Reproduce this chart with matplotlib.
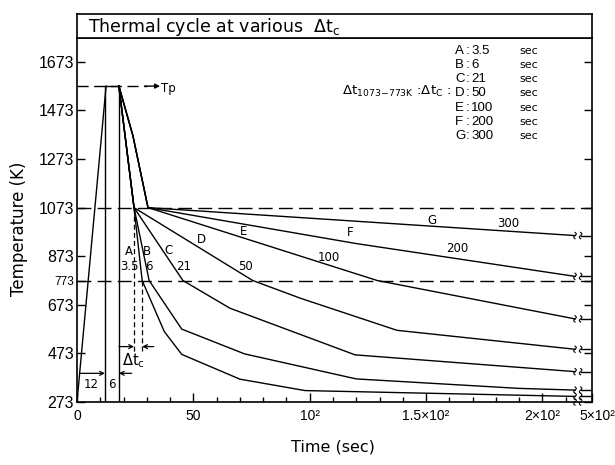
import numpy as np
import matplotlib
matplotlib.use("Agg")
import matplotlib.pyplot as plt
from matplotlib.ticker import FixedLocator
from matplotlib.transforms import ScaledTranslation

# ---------------- data ----------------
curve_names = ["A", "B", "C", "D", "E", "F", "G"]
dtc_values = ["3.5", "6", "21", "50", "100", "200", "300"]

peak_T = 1573
upper_ref_T = 1073
lower_ref_T = 773
heat_t = [0, 12.5]
heat_T = [273, 1573]
hold_t = [12.5, 18]
hold_marks_t = [12, 18]

A_t = [18, 24.5, 28, 37.5, 45, 70, 98, 214]
A_T = [1573, 1073, 773, 563, 469, 367, 320, 296]
B_t = [18, 24.5, 31, 45, 72, 120, 190, 214]
B_T = [1573, 1073, 773, 573, 471, 368, 329, 322]
C_t = [18, 24.5, 45.5, 65.7, 119.5, 214]
C_T = [1573, 1073, 773, 659, 467, 398]
D_t = [18, 24.5, 75.5, 96, 137.5, 214]
D_T = [1573, 1073, 773, 700, 568, 490]
E_t = [18, 24, 30.5, 129, 214]
E_T = [1573, 1370, 1073, 773, 615]
F_t = [18, 24, 30.5, 120, 214]
F_T = [1573, 1370, 1073, 925, 790]
G_t = [18, 24, 30.5, 214]
G_T = [1573, 1370, 1073, 958]

curves_t = [A_t, B_t, C_t, D_t, E_t, F_t, G_t]
curves_T = [A_T, B_T, C_T, D_T, E_T, F_T, G_T]

t_axis_end = 221.3
t_resume = 216.4

ytick_vals = [273, 473, 673, 773, 873, 1073, 1273, 1473, 1673]
xtick_vals = [0, 50, 100, 150, 200, t_axis_end]
xtick_labels = ["0", "50", "10\u00b2", "1.5\u00d710\u00b2", "2\u00d710\u00b2", "5\u00d710\u00b2"]

# anchor points for the letter / value tags next to each curve
name_pos = [(22.5, 891), (30.0, 891), (39.2, 898), (53.6, 940),
            (71.5, 974), (117.3, 970), (152.4, 1022)]
value_pos = [(22.5, 830), (31.1, 830), (46.0, 830), (72.5, 830),
             (108.0, 868), (163.2, 905), (185.3, 1008)]

# ---------------- figure ----------------
W, H = 615, 465
LIB = ["Liberation Sans", "DejaVu Sans"]
REG = ["DejaVu Sans"]

fig = plt.figure(figsize=(W / 100, H / 100), dpi=100)
ax = fig.add_axes([77 / W, 1 - 402 / H, 515 / W, 364 / H])
tax = fig.add_axes([77 / W, 1 - 38 / H, 515 / W, 24 / H])

LW = 1.0
ax.set_xlim(0, t_axis_end)
ax.set_ylim(273, 1771)

# heating and hold
ax.plot(heat_t, heat_T, color="black", lw=LW)
ax.plot(hold_t, [peak_T, peak_T], color="black", lw=LW)
for tm in hold_marks_t:
    ax.plot([tm, tm], [273, peak_T], color="black", lw=LW)

# cooling curves, interrupted by a scale break near the right edge
def break_mark(x0, y0):
    s = np.linspace(-1, 1, 24)
    ax.plot(x0 + 0.55 * np.sin(np.pi * s), y0 + 13 * s, color="black",
            lw=0.8, clip_on=False)

for ts, Ts in zip(curves_t, curves_T):
    ax.plot(ts, Ts, color="black", lw=LW)
    ax.plot([t_resume, t_axis_end], [Ts[-1], Ts[-1]], color="black", lw=LW)
    break_mark(ts[-1], Ts[-1])
    break_mark(t_resume, Ts[-1])
break_mark(214, 273)
break_mark(t_resume, 273)

# reference temperature lines
for ref in (upper_ref_T, lower_ref_T):
    ax.plot([0, t_axis_end], [ref, ref], color="black", lw=LW,
            dashes=(10, 4.5))

# peak temperature marker
ax.plot([0, 30], [peak_T, peak_T], color="black", lw=LW, dashes=(8, 4))
ax.annotate("", xy=(35.7, peak_T), xytext=(29, peak_T),
            arrowprops=dict(arrowstyle="-|>", lw=LW, color="black",
                            mutation_scale=7, shrinkA=0, shrinkB=0))
ax.text(36.3, peak_T - 10, "Tp", fontsize=8.5, va="center", ha="left",
        family=REG)

# cooling-time interval for curve A
tA0, tA1 = A_t[1], A_t[2]
ax.plot([tA0, tA0], [upper_ref_T, 480], color="black", lw=0.9, dashes=(4, 2.5))
ax.plot([tA1, tA1], [lower_ref_T, 480], color="black", lw=0.9, dashes=(4, 2.5))
arrow_kw = dict(arrowstyle="->", lw=0.9, color="black", mutation_scale=7,
                shrinkA=0, shrinkB=0)
ax.annotate("", xy=(tA0, 501), xytext=(18, 501), arrowprops=arrow_kw)
ax.annotate("", xy=(tA1, 501), xytext=(33, 501), arrowprops=arrow_kw)
ax.text(24.2, 442, r"$\Delta\mathrm{t}_\mathrm{c}$", fontsize=10.5,
        ha="center", va="center")

# heating / holding durations
ax.annotate("", xy=(hold_marks_t[0], 391), xytext=(1.1, 391), arrowprops=arrow_kw)
ax.annotate("", xy=(hold_marks_t[1], 391), xytext=(23.5, 391), arrowprops=arrow_kw)
ax.text(6.3, 343, "12", fontsize=8.5, ha="center", va="center", family=REG)
ax.text(15.0, 343, "6", fontsize=8.5, ha="center", va="center", family=REG)

# curve tags
for (nx, ny), (vx, vy), nm, dv in zip(name_pos, value_pos, curve_names, dtc_values):
    ax.text(nx, ny, nm, fontsize=8.5, ha="center", va="center", family=REG)
    ax.text(vx, vy, dv, fontsize=8.5, ha="center", va="center", family=REG)

# axes styling
for sp in ax.spines.values():
    sp.set_linewidth(1.2)
for sp in tax.spines.values():
    sp.set_linewidth(1.2)

ax.yaxis.set_major_locator(FixedLocator(ytick_vals))
ax.set_yticklabels([str(v) for v in ytick_vals], family=LIB, fontsize=11.5)
for lab in ax.get_yticklabels():
    if lab.get_text() == "773":
        lab.set_fontsize(8.5)
ax.tick_params(axis="y", direction="in", length=6, width=1.0, left=True,
               right=True, labelright=False, pad=2)

ax.xaxis.set_major_locator(FixedLocator(xtick_vals))
ax.xaxis.set_minor_locator(FixedLocator(list(range(10, 211, 10))))
ax.set_xticklabels(xtick_labels, family=LIB, fontsize=10)
ax.tick_params(axis="x", which="major", direction="in", length=6.5, width=1.0,
               top=False, pad=5)
ax.tick_params(axis="x", which="minor", direction="in", length=3.5, width=1.0,
               top=False, bottom=True)
# the last label sits just past the right frame
last_lab = ax.get_xticklabels()[-1]
last_lab.set_transform(last_lab.get_transform()
                       + ScaledTranslation(5 / 100, 0, fig.dpi_scale_trans))

# title box
tax.set_xticks([])
tax.set_yticks([])
tax.text(0.021, 0.45, r"Thermal cycle at various  $\Delta\mathrm{t}_\mathrm{c}$",
         transform=tax.transAxes, fontsize=12.5, ha="left", va="center",
         family=REG)

# axis titles
fig.text(19 / W, 1 - 229 / H, "Temperature (K)", rotation=90, ha="center",
         va="center", fontsize=12, family=REG)
fig.text(333 / W, 1 - 447 / H, "Time (sec)", ha="center", va="center",
         fontsize=11.5, family=REG)

# key of cooling times
def px(x, y):
    return x / W, 1 - y / H

for i, (nm, dv) in enumerate(zip(curve_names, dtc_values)):
    yc = 51.2 + 14.1 * i
    fig.text(*px(455, yc), nm, family=LIB, fontsize=9.5, ha="left", va="center")
    fig.text(*px(466, yc), ":", family=LIB, fontsize=9.5, ha="left", va="center")
    fig.text(*px(471, yc), dv, family=LIB, fontsize=9.5, ha="left", va="center")
    fig.text(*px(519, yc), "sec", family=REG, fontsize=8, ha="left",
             va="center")

fig.text(*px(451, 95),
         r"$\Delta\mathrm{t}_{\mathrm{1073\!-\!773K}}$ :$\Delta\mathrm{t}_\mathrm{C}$ :",
         fontsize=9.5, ha="right", va="baseline")

fig.savefig("out.png", dpi=100)
